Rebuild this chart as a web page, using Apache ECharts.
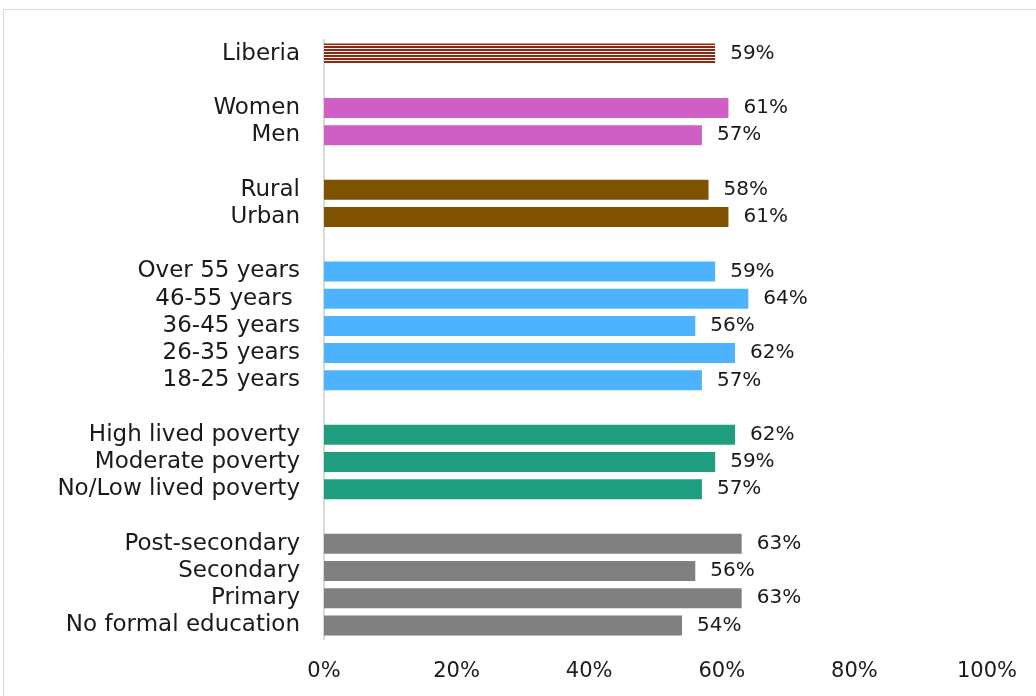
<!DOCTYPE html>
<html>
<head>
<meta charset="utf-8">
<script src="https://cdn.jsdelivr.net/npm/echarts@6/dist/echarts.min.js"></script>
<style>
  html, body { margin: 0; padding: 0; background: #fff; }
  #chart { width: 1036px; height: 696px; }
</style>
</head>
<body>
<div id="chart"></div>
<script>
// Row labels, top to bottom; blank rows separate the groups
const categories = [
  'Liberia', ' ',
  'Women', 'Men', '  ',
  'Rural', 'Urban', '   ',
  'Over 55 years', '46-55 years ', '36-45 years', '26-35 years', '18-25 years', '    ',
  'High lived poverty', 'Moderate poverty', 'No/Low lived poverty', '     ',
  'Post-secondary', 'Secondary', 'Primary', 'No formal education'
];
// Share in percent (null on the blank rows)
const values = [
  59, null,
  61, 57, null,
  58, 61, null,
  59, 64, 56, 62, 57, null,
  62, 59, 57, null,
  63, 56, 63, 54
];
// Group of each row, used to pick its colour
const groups = [
  'total', '',
  'gender', 'gender', '',
  'location', 'location', '',
  'age', 'age', 'age', 'age', 'age', '',
  'poverty', 'poverty', 'poverty', '',
  'education', 'education', 'education', 'education'
];
const xTicks = [0, 20, 40, 60, 80, 100];

// Horizontal stripe fill for the national total
const stripe = document.createElement('canvas');
stripe.width = 4; stripe.height = 3;
const sctx = stripe.getContext('2d');
sctx.fillStyle = '#fbf3f0';
sctx.fillRect(0, 0, 4, 3);
sctx.fillStyle = '#8a2a12';
sctx.fillRect(0, 1, 4, 2);

const groupColors = {
  total: { image: stripe, repeat: 'repeat' },
  gender: '#cf5fc4',
  location: '#7f5200',
  age: '#4db3ff',
  poverty: '#1e9e7e',
  education: '#808080'
};

const barData = values.map((v, i) => ({
  value: v,
  itemStyle: { color: groupColors[groups[i]] || 'transparent' }
}));

const chart = echarts.init(document.getElementById('chart'), null, { renderer: 'canvas' });
chart.setOption({
  animation: false,
  backgroundColor: '#ffffff',
  graphic: [{
    type: 'rect',
    shape: { x: 3.5, y: 9.5, width: 1200, height: 900 },
    style: { fill: 'none', stroke: '#d9d9d9', lineWidth: 1 },
    silent: true
  }],
  grid: { left: 324, right: 49, top: 40, bottom: 57, containLabel: false },
  xAxis: {
    type: 'value',
    min: xTicks[0],
    max: xTicks[xTicks.length - 1],
    interval: 20,
    axisLine: { show: false },
    axisTick: { show: false },
    splitLine: { show: false },
    axisLabel: {
      formatter: v => v + '%',
      color: '#1a1a1a',
      fontFamily: 'DejaVu Sans',
      fontSize: 21,
      margin: 22
    }
  },
  yAxis: {
    type: 'category',
    inverse: true,
    data: categories,
    axisLine: { show: true, lineStyle: { color: '#d9d9d9', width: 2 } },
    axisTick: { show: false },
    axisLabel: {
      interval: 0,
      color: '#1a1a1a',
      fontFamily: 'DejaVu Sans',
      fontSize: 23,
      margin: 24
    }
  },
  series: [{
    type: 'bar',
    data: barData,
    barWidth: 20,
    label: {
      show: true,
      position: 'right',
      distance: 15,
      formatter: p => (p.value == null ? '' : p.value + '%'),
      color: '#1a1a1a',
      fontFamily: 'DejaVu Sans',
      fontSize: 20
    }
  }]
});
</script>
</body>
</html>
